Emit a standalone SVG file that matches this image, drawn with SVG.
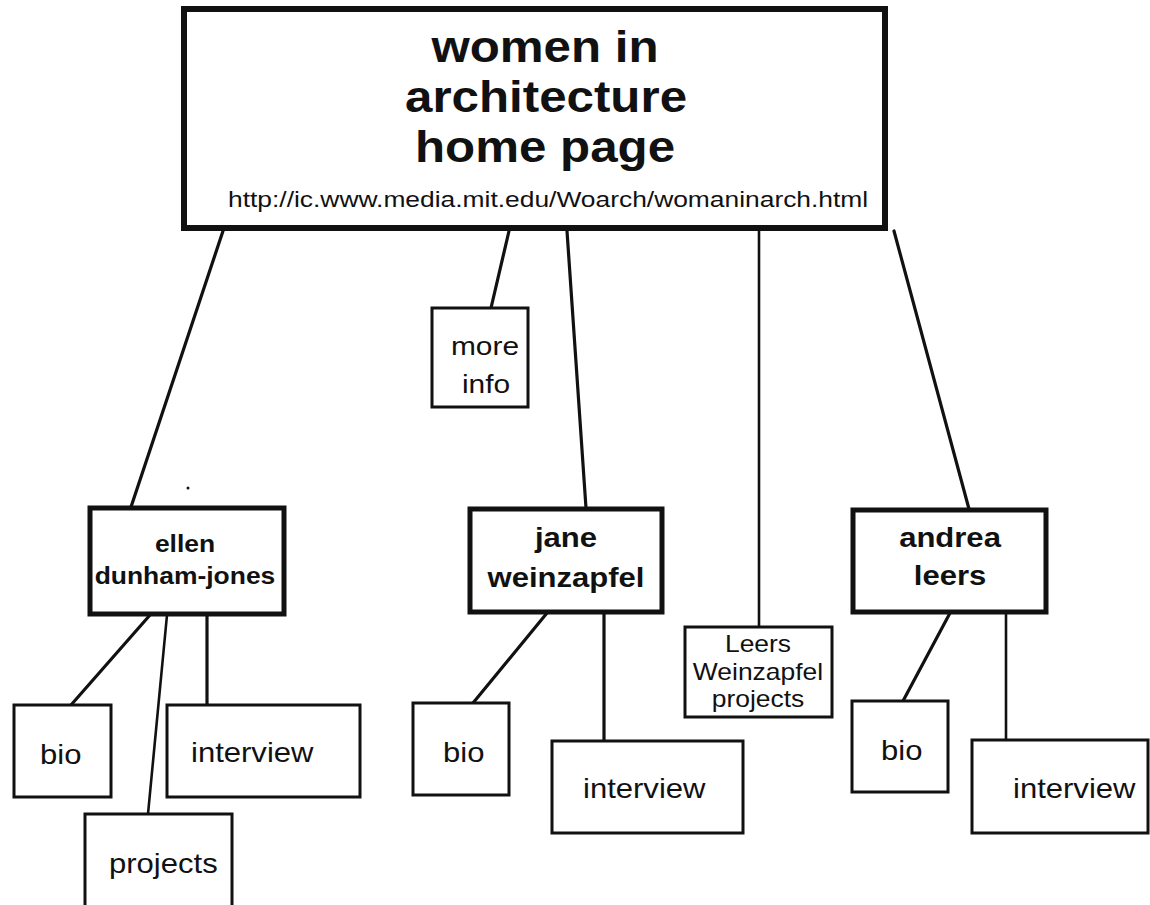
<svg xmlns="http://www.w3.org/2000/svg" width="1150" height="905" viewBox="0 0 1150 905">
<style>
  .main { fill: #fff; stroke: #111; stroke-width: 6; }
  .person { fill: #fff; stroke: #111; stroke-width: 5; }
  .leaf { fill: #fff; stroke: #111; stroke-width: 3; }
  .conn line { stroke: #111; stroke-width: 3.2; stroke-linecap: round; }
  text { font-family: "Liberation Sans", Arial, Helvetica, sans-serif; fill: #111; }
  .title { font-size: 44px; font-weight: bold; text-anchor: middle; }
  .url { font-size: 22px; }
  .pname { font-weight: bold; text-anchor: middle; }
  .lbl { font-size: 27px; }
  .lw { font-size: 23px; text-anchor: middle; }
</style>
<rect width="1150" height="905" fill="#fff"/>

<g id="connectors" class="conn">
  <line x1="223" y1="231" x2="131" y2="507"/>
  <line x1="509" y1="231" x2="491" y2="308"/>
  <line x1="567" y1="231" x2="586" y2="508"/>
  <line x1="759" y1="231" x2="759" y2="627" style="stroke-width:2.6"/>
  <line x1="894" y1="231" x2="969" y2="509"/>
  <line x1="150" y1="615" x2="71" y2="705"/>
  <line x1="167" y1="615" x2="148" y2="814" style="stroke-width:2.6"/>
  <line x1="207" y1="615" x2="207" y2="705"/>
  <line x1="547" y1="613" x2="473" y2="703"/>
  <line x1="604" y1="613" x2="604" y2="741"/>
  <line x1="950" y1="613" x2="903" y2="701"/>
  <line x1="1006" y1="613" x2="1006" y2="740" style="stroke-width:2.6"/>
</g>

<g id="home">
  <rect class="main" x="184" y="9" width="701" height="219"/>
  <text class="title" transform="translate(545,62) scale(1.12,1)">women in</text>
  <text class="title" transform="translate(546,112) scale(1.12,1)">architecture</text>
  <text class="title" transform="translate(545,162) scale(1.12,1)">home page</text>
  <text class="url" transform="translate(228,207) scale(1.2,1)">http://ic.www.media.mit.edu/Woarch/womaninarch.html</text>
</g>

<g id="more-info">
  <rect class="leaf" x="432" y="308" width="96" height="99"/>
  <text class="lbl" style="font-size:26px;text-anchor:middle" transform="translate(485,355) scale(1.15,1)">more</text>
  <text class="lbl" style="font-size:26px;text-anchor:middle" transform="translate(486,393) scale(1.15,1)">info</text>
</g>

<g id="ellen">
  <rect class="person" x="90" y="508" width="194" height="106"/>
  <text class="pname" style="font-size:23px" transform="translate(185,552) scale(1.15,1)">ellen</text>
  <text class="pname" style="font-size:23px" transform="translate(185,584) scale(1.15,1)">dunham-jones</text>
</g>

<g id="jane">
  <rect class="person" x="470" y="509" width="192" height="103"/>
  <text class="pname" style="font-size:27px" transform="translate(566,547) scale(1.15,1)">jane</text>
  <text class="pname" style="font-size:27px" transform="translate(566,587) scale(1.15,1)">weinzapfel</text>
</g>

<g id="andrea">
  <rect class="person" x="853" y="510" width="193" height="102"/>
  <text class="pname" style="font-size:27px" transform="translate(950,547) scale(1.15,1)">andrea</text>
  <text class="pname" style="font-size:27px" transform="translate(950,585) scale(1.15,1)">leers</text>
</g>

<g id="leers-weinzapfel-projects">
  <rect class="leaf" x="685" y="627" width="147" height="90"/>
  <text class="lw" transform="translate(758,652) scale(1.15,1)">Leers</text>
  <text class="lw" transform="translate(758,680) scale(1.15,1)">Weinzapfel</text>
  <text class="lw" transform="translate(758,707) scale(1.15,1)">projects</text>
</g>

<g id="ellen-bio">
  <rect class="leaf" x="14" y="705" width="97" height="92"/>
  <text class="lbl" transform="translate(40,764) scale(1.15,1)">bio</text>
</g>
<g id="ellen-interview">
  <rect class="leaf" x="167" y="705" width="193" height="92"/>
  <text class="lbl" transform="translate(191,762) scale(1.15,1)">interview</text>
</g>
<g id="ellen-projects">
  <rect class="leaf" x="85" y="814" width="147" height="100"/>
  <text class="lbl" transform="translate(109,873) scale(1.15,1)">projects</text>
</g>

<g id="jane-bio">
  <rect class="leaf" x="413" y="703" width="96" height="92"/>
  <text class="lbl" transform="translate(443,762) scale(1.15,1)">bio</text>
</g>
<g id="jane-interview">
  <rect class="leaf" x="552" y="741" width="191" height="92"/>
  <text class="lbl" transform="translate(583,798) scale(1.15,1)">interview</text>
</g>

<g id="andrea-bio">
  <rect class="leaf" x="852" y="701" width="96" height="91"/>
  <text class="lbl" transform="translate(881,760) scale(1.15,1)">bio</text>
</g>
<g id="andrea-interview">
  <rect class="leaf" x="972" y="740" width="176" height="93"/>
  <text class="lbl" transform="translate(1013,798) scale(1.15,1)">interview</text>
</g>

<circle cx="188" cy="488" r="1.5" fill="#111"/>
</svg>
